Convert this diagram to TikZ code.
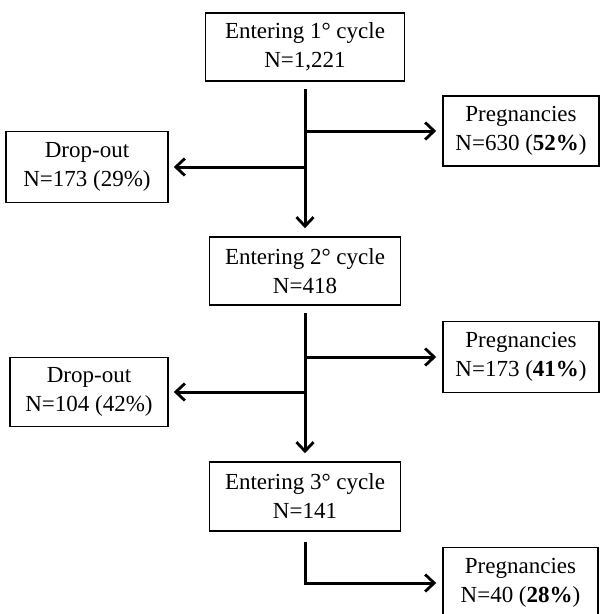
\documentclass[tikz,border=0pt]{standalone}
\usepackage{fontspec}
\setmainfont{Liberation Serif}
\usetikzlibrary{arrows.meta}
\tikzset{
  box/.style={draw=black, line width=1.6pt, align=center, inner sep=0pt,
    font=\fontsize{23}{29}\selectfont},
  conn/.style={line width=3pt, -{Straight Barb[length=9pt,width=17pt,line width=2.8pt]}},
}
\begin{document}
\begin{tikzpicture}[x=1pt,y=-1pt]
\useasboundingbox (0,0) rectangle (601,614);
\clip (0,0) rectangle (601,614);
\node[box, minimum width=199pt, minimum height=68pt] (b1) at (305,47) {Entering 1° cycle\\N=1,221};
\node[box, minimum width=191pt, minimum height=68pt] (b2) at (305,271) {Entering 2° cycle\\N=418};
\node[box, minimum width=191pt, minimum height=69pt] (b3) at (305,496.5) {Entering 3° cycle\\N=141};
\node[box, minimum width=156pt, minimum height=70pt] (p1) at (521,131) {Pregnancies\\N=630 (\textbf{52\%})};
\node[box, minimum width=156pt, minimum height=71pt] (p2) at (521,357) {Pregnancies\\N=173 (\textbf{41\%})};
\node[box, minimum width=155pt, minimum height=71pt] (p3) at (520.5,583) {Pregnancies\\N=40 (\textbf{28\%})};
\node[box, minimum width=162pt, minimum height=71pt] (d1) at (87,167) {Drop-out\\N=173 (29\%)};
\node[box, minimum width=158pt, minimum height=69pt] (d2) at (89,392) {Drop-out\\N=104 (42\%)};
\draw[conn, shorten <=7pt, shorten >=8pt] (b1) -- (b2);
\draw[conn, shorten <=7pt, shorten >=8pt] (b2) -- (b3);
\draw[conn, shorten >=6pt] (b1 |- p1) -- (p1);
\draw[conn, shorten >=5pt] (b1 |- d1) -- (d1);
\draw[conn, shorten >=6pt] (b2 |- p2) -- (p2);
\draw[conn, shorten >=5pt] (b2 |- d2) -- (d2);
\draw[conn, shorten <=10pt, shorten >=6pt] (b3) |- (p3);
\end{tikzpicture}
\end{document}
